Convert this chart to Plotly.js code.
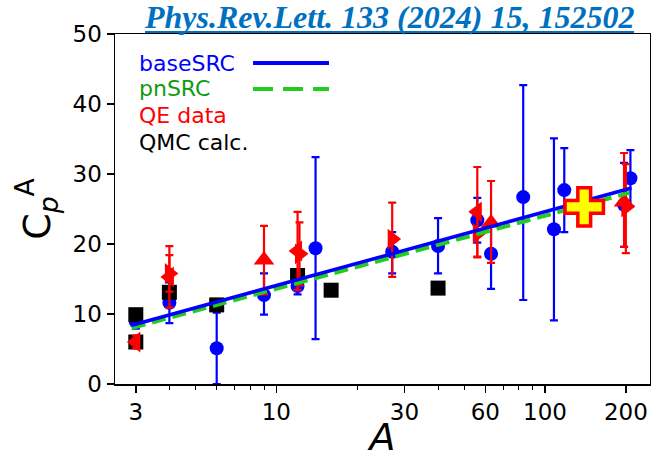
<!DOCTYPE html>
<html>
<head>
<meta charset="utf-8">
<script src="https://cdn.plot.ly/plotly-3.0.1.min.js"></script>
<style>html,body{margin:0;padding:0;background:#fff;}#chart{width:651px;height:459px;}</style>
</head>
<body>
<div id="chart"></div>
<script>
// ---- data ----
// fitted curves
const baseA = [2.9, 210];
const baseC = [8.4, 28.0];
const pnA = [2.9, 206];
const pnC = [8.0, 27.3];

// blue points (with error bars)
const blueA = [3, 4, 6, 9, 12, 14, 27, 40, 56, 63, 83, 108, 118, 197, 208];
const blueC = [8.9, 11.6, 5.1, 12.7, 14.0, 19.4, 18.9, 19.7, 23.4, 18.6, 26.7, 22.1, 27.7, 25.6, 29.4];
const bluePlus = [1.0, 2.9, 5.1, 3.1, 1.2, 13.0, 2.8, 4.0, 3.2, 4.5, 16.0, 13.0, 6.0, 6.0, 4.0];
const blueMinus = [1.0, 2.9, 5.1, 2.8, 1.2, 13.0, 3.1, 3.9, 3.2, 5.0, 14.7, 13.0, 6.0, 6.0, 4.0];

// QE data (red)
const qeA = [3, 4, 4, 9, 12, 12.2, 27, 56, 56, 63, 197, 200];
const qeC = [6.0, 15.3, 15.8, 17.7, 19.0, 18.6, 20.7, 24.6, 21.5, 23.0, 26.0, 25.3];
const qePlus = [0.9, 4.4, 2.6, 4.9, 5.6, 4.5, 5.2, 6.4, 3.4, 6.0, 7.0, 6.1];
const qeMinus = [0.9, 4.4, 2.6, 4.9, 5.6, 4.5, 5.4, 6.4, 3.4, 5.7, 6.4, 6.6];
const qeSymbol = ['triangle-left', 'triangle-left', 'triangle-right', 'triangle-up', 'triangle-left', 'triangle-right',
                  'triangle-right', 'triangle-left', 'triangle-right', 'triangle-up', 'triangle-up', 'triangle-right'];

// QMC calc. (black)
const qmcA = [3, 3, 4, 6, 12, 16, 40];
const qmcC = [9.9, 6.0, 13.1, 11.3, 15.5, 13.4, 13.7];

// highlighted point
const starA = [140];
const starC = [25.3];

// axis ticks
const xTickVals = [3, 10, 30, 60, 100, 200];
const xTickText = ['3', '10', '30', '60', '100', '200'];
const xMinorVals = [4, 5, 6, 7, 8, 9, 20, 40, 50, 70, 80, 90];
const yTickVals = [0, 10, 20, 30, 40, 50];

const legendLabels = ['baseSRC', 'pnSRC', 'QE data', 'QMC calc.'];
const legendColors = ['#0000FF', '#109A10', '#FF0000', '#000000'];

// ---- traces ----
const traces = [
  {
    x: blueA, y: blueC, type: 'scatter', mode: 'markers', showlegend: false,
    marker: {color: '#0000FF', size: 14, symbol: 'circle'},
    error_y: {type: 'data', symmetric: false, array: bluePlus, arrayminus: blueMinus,
              color: '#0000FF', thickness: 2.2, width: 4}
  },
  {
    x: qmcA, y: qmcC, type: 'scatter', mode: 'markers', showlegend: false,
    marker: {color: '#000000', size: 15, symbol: 'square'}
  },
  {
    x: qeA, y: qeC, type: 'scatter', mode: 'markers', showlegend: false,
    marker: {color: '#FF0000', size: 18, symbol: qeSymbol},
    error_y: {type: 'data', symmetric: false, array: qePlus, arrayminus: qeMinus,
              color: '#FF0000', thickness: 2.2, width: 4}
  },
  {
    x: pnA, y: pnC, type: 'scatter', mode: 'lines', showlegend: false,
    line: {color: '#22CC22', width: 4, dash: '14px,7px'}
  },
  {
    x: baseA, y: baseC, type: 'scatter', mode: 'lines', showlegend: false,
    line: {color: '#0000FF', width: 3.5}
  },
  {
    x: starA, y: starC, type: 'scatter', mode: 'markers', showlegend: false,
    marker: {color: '#FFFF00', size: 32, symbol: 'cross', line: {color: '#FF0000', width: 3.5}}
  }
];

// ---- legend (text left, line right) ----
const legY = [0.917, 0.843, 0.766, 0.689];
const annotations = legendLabels.map((t, i) => ({
  xref: 'paper', yref: 'paper', x: 0.041, y: legY[i], xanchor: 'left', yanchor: 'middle',
  text: t, showarrow: false, font: {family: 'DejaVu Sans', size: 22, color: legendColors[i]}
}));
annotations.push({
  xref: 'paper', yref: 'paper', x: (389 - 115) / 535, y: 1 + (34 - 17) / 350, xanchor: 'center', yanchor: 'middle',
  text: '<b><i>Phys.Rev.Lett. 133 (2024) 15, 152502</i></b>', showarrow: false,
  font: {family: 'Liberation Serif', size: 32, color: '#0070C0'}
});

const shapes = [
  {type: 'line', xref: 'paper', yref: 'paper', x0: 0.258, x1: 0.400, y0: legY[0], y1: legY[0],
   line: {color: '#0000FF', width: 4}},
  {type: 'line', xref: 'paper', yref: 'paper', x0: 0.258, x1: 0.400, y0: legY[1], y1: legY[1],
   line: {color: '#22CC22', width: 4, dash: '20px,10px'}},
  // underline of the reference link
  {type: 'line', xref: 'paper', yref: 'paper', x0: (145 - 115) / 535, x1: (634 - 115) / 535,
   y0: 1 + (34 - 32) / 350, y1: 1 + (34 - 32) / 350, line: {color: '#0070C0', width: 2}}
];

const axisCommon = {
  showline: true, linecolor: '#000', linewidth: 1.5, mirror: true,
  ticks: 'outside', ticklen: 7, tickwidth: 1.5, tickcolor: '#000',
  showgrid: false, zeroline: false,
  tickfont: {family: 'DejaVu Sans', size: 23, color: '#000'}
};

const layout = {
  width: 651, height: 459,
  margin: {l: 115, r: 1, t: 34, b: 75},
  paper_bgcolor: '#fff', plot_bgcolor: '#fff',
  showlegend: false,
  xaxis: Object.assign({}, axisCommon, {
    type: 'log', range: [Math.log10(2.51), Math.log10(246)],
    tickmode: 'array', tickvals: xTickVals, ticktext: xTickText,
    minor: {tickmode: 'array', tickvals: xMinorVals, ticks: 'outside', ticklen: 4, tickwidth: 1, tickcolor: '#000', showgrid: false},
    title: {text: '<i>A</i>', font: {family: 'DejaVu Sans', size: 38, color: '#000'}, standoff: 18}
  }),
  yaxis: Object.assign({}, axisCommon, {
    range: [0, 50], tickmode: 'array', tickvals: yTickVals,
    title: {text: 'C<sub><i>p</i></sub><sup>A</sup>', font: {family: 'DejaVu Sans', size: 38, color: '#000'}, standoff: 10}
  }),
  annotations: annotations,
  shapes: shapes
};

Plotly.newPlot('chart', traces, layout, {staticPlot: true, displayModeBar: false});
</script>
</body>
</html>
